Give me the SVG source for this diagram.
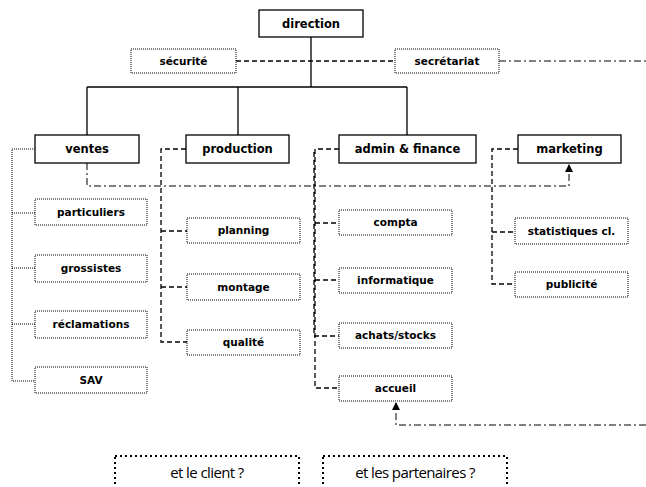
<svg xmlns="http://www.w3.org/2000/svg" width="646" height="487" viewBox="0 0 646 487">
<defs>
<style>
.main{fill:#fff;stroke:#000;stroke-width:1.3}
.sub{fill:#fff;stroke:#000;stroke-width:1;stroke-dasharray:1 1}
.big{fill:#fff;stroke:#000;stroke-width:2;stroke-dasharray:2 3}
.t{font-family:"DejaVu Sans",Verdana,sans-serif;font-weight:bold;font-size:11.5px;text-anchor:middle;fill:#000}
.ts{font-family:"DejaVu Sans",Verdana,sans-serif;font-weight:bold;font-size:10.5px;text-anchor:middle;fill:#000}
.tb{font-family:"Open Sans",sans-serif;font-size:15px;font-weight:500;letter-spacing:-0.6px;text-anchor:middle;fill:#000}
.solid{fill:none;stroke:#000;stroke-width:1.3}
.dot{fill:none;stroke:#000;stroke-width:1;stroke-dasharray:1 1}
.dash{fill:none;stroke:#000;stroke-width:1.3;stroke-dasharray:5 3}
.dashdot{fill:none;stroke:#000;stroke-width:1;stroke-dasharray:7 3 2 3}
</style>
<marker id="arr" markerWidth="8" markerHeight="8" refX="7" refY="4" orient="auto" markerUnits="userSpaceOnUse">
<path d="M0,0 L8,4 L0,8 Z" fill="#000"/>
</marker>
</defs>
<g id="connectors">
<path class="solid" d="M311,37 V87 M87,87 H407 M87,87 V135 M238,87 V135 M407,87 V135"/>
<path class="dash" d="M236,61 H395"/>
<path class="dashdot" d="M499,61 H646"/>
<path class="dot" d="M35,149 H12 V381 H35 M12,213 H35 M12,268 H35 M12,324 H35"/>
<path class="dash" d="M186,149 H161 V342 H187 M161,231 H187 M161,287 H187"/>
<path class="dash" d="M339,149 H315 V388 H339 M315,223 H339 M315,280 H339 M314,152 V336 H339"/>
<path class="dash" d="M518,149 H492 V284 H515 M492,232 H515"/>
<path class="dashdot" d="M87,163 V186 H569 V165" marker-end="url(#arr)"/>
<path class="dashdot" d="M646,425 H396 V403" marker-end="url(#arr)"/>
</g>
<g id="direction"><rect class="main" x="259" y="10" width="104" height="27"/><text class="t" x="311" y="28">direction</text></g>
<g id="securite"><rect class="sub" x="131" y="49" width="105" height="24"/><text class="ts" x="183.5" y="65">sécurité</text></g>
<g id="secretariat"><rect class="sub" x="395" y="49" width="104" height="24"/><text class="ts" x="447" y="65">secrétariat</text></g>
<g id="ventes"><rect class="main" x="35" y="135" width="104" height="28"/><text class="t" x="87" y="153">ventes</text></g>
<g id="production"><rect class="main" x="186" y="135" width="103" height="28"/><text class="t" x="237.5" y="153">production</text></g>
<g id="admin"><rect class="main" x="339" y="135" width="137" height="28"/><text class="t" x="407.5" y="153">admin &amp; finance</text></g>
<g id="marketing"><rect class="main" x="518" y="135" width="103" height="28"/><text class="t" x="569.5" y="153">marketing</text></g>
<g id="particuliers"><rect class="sub" x="35" y="199" width="112" height="26"/><text class="ts" x="91" y="216">particuliers</text></g>
<g id="grossistes"><rect class="sub" x="35" y="255" width="112" height="27"/><text class="ts" x="91" y="272">grossistes</text></g>
<g id="reclamations"><rect class="sub" x="35" y="311" width="112" height="27"/><text class="ts" x="91" y="328">réclamations</text></g>
<g id="sav"><rect class="sub" x="35" y="367" width="112" height="26"/><text class="ts" x="91" y="384">SAV</text></g>
<g id="planning"><rect class="sub" x="187" y="218" width="113" height="25"/><text class="ts" x="243.5" y="234">planning</text></g>
<g id="montage"><rect class="sub" x="187" y="274" width="113" height="26"/><text class="ts" x="243.5" y="291">montage</text></g>
<g id="qualite"><rect class="sub" x="187" y="330" width="113" height="25"/><text class="ts" x="243.5" y="346">qualité</text></g>
<g id="compta"><rect class="sub" x="339" y="210" width="113" height="25"/><text class="ts" x="395.5" y="226">compta</text></g>
<g id="informatique"><rect class="sub" x="339" y="268" width="113" height="25"/><text class="ts" x="395.5" y="284">informatique</text></g>
<g id="achats"><rect class="sub" x="339" y="323" width="113" height="25"/><text class="ts" x="395.5" y="339">achats/stocks</text></g>
<g id="accueil"><rect class="sub" x="339" y="376" width="113" height="25"/><text class="ts" x="395.5" y="392">accueil</text></g>
<g id="statistiques"><rect class="sub" x="515" y="218" width="113" height="26"/><text class="ts" x="571.5" y="235">statistiques cl.</text></g>
<g id="publicite"><rect class="sub" x="515" y="272" width="113" height="25"/><text class="ts" x="571.5" y="288">publicité</text></g>
<g id="client"><rect class="big" x="115" y="456" width="184" height="50"/><text class="tb" x="207" y="478">et le client ?</text></g>
<g id="partenaires"><rect class="big" x="323" y="456" width="184" height="50"/><text class="tb" x="415" y="478">et les partenaires ?</text></g>
</svg>
